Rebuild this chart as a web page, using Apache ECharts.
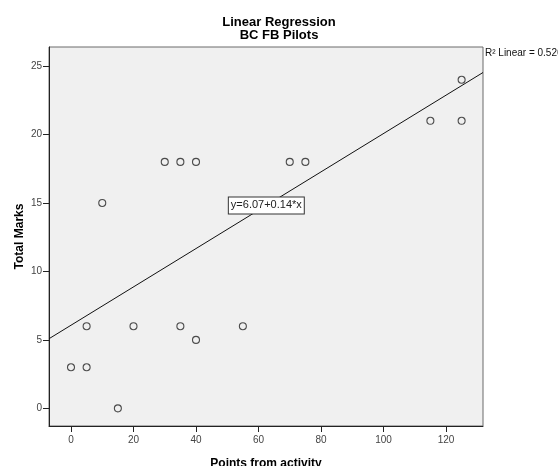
<!DOCTYPE html>
<html>
<head>
<meta charset="utf-8">
<script src="https://cdn.jsdelivr.net/npm/echarts@6/dist/echarts.min.js"></script>
<style>
html,body{margin:0;padding:0;background:#fff;}
#chart{width:558px;height:466px;}
</style>
</head>
<body>
<div id="chart"></div>
<script>
// Data
var pointsX = [0, 5, 5, 10, 15, 20, 30, 35, 40, 35, 40, 55, 70, 75, 115, 125, 125];
var pointsY = [3, 3, 6, 15, 0, 6, 18, 18, 18, 6, 5, 6, 18, 18, 21, 21, 24];
var xTicks = [0, 20, 40, 60, 80, 100, 120];
var yTicks = [0, 5, 10, 15, 20, 25];
var fitIntercept = 6.07;
var fitSlope = 0.14;
var fitLabel = 'y=6.07+0.14*x';
var r2Label = 'R\u00B2 Linear = 0.526';
var titleLines = ['Linear Regression', 'BC FB Pilots'];
var xName = 'Points from activity';
var yName = 'Total Marks';

var xMin = -7.04, xMax = 131.84;
var yMin = -1.29, yMax = 26.39;
var labelX = 62.5;

var scatterData = pointsX.map(function (x, i) { return [x, pointsY[i]]; });
var lineData = [[xMin, fitIntercept + fitSlope * xMin], [xMax, fitIntercept + fitSlope * xMax]];

var chart = echarts.init(document.getElementById('chart'), null, {renderer: 'canvas'});
var font = 'Liberation Sans, Arial, sans-serif';
chart.setOption({
  animation: false,
  backgroundColor: '#ffffff',
  title: {
    text: titleLines.join('\n'),
    left: 'center',
    top: 11,
    textStyle: {fontFamily: font, fontSize: 13, fontWeight: 'bold', color: '#000', lineHeight: 13}
  },
  grid: {left: 49, top: 47, width: 434, height: 379, containLabel: false, outerBoundsMode: 'none',
         show: true, backgroundColor: '#f0f0f0', borderColor: '#6a6a6a', borderWidth: 1},
  xAxis: {
    type: 'value', min: xMin, max: xMax,
    name: xName, nameLocation: 'middle', nameGap: 32, nameMoveOverlap: false,
    nameTextStyle: {fontFamily: font, fontSize: 12, fontWeight: 'bold', color: '#000'},
    axisLine: {show: true, onZero: false, lineStyle: {color: '#222', width: 1}},
    axisTick: {show: true, inside: false, length: 6, customValues: xTicks, lineStyle: {color: '#222'}},
    axisLabel: {customValues: xTicks, fontFamily: font, fontSize: 10, color: '#444', margin: 9},
    splitLine: {show: false}
  },
  yAxis: {
    type: 'value', min: yMin, max: yMax,
    name: yName, nameLocation: 'middle', nameGap: 23, nameRotate: 90, nameMoveOverlap: false,
    nameTextStyle: {fontFamily: font, fontSize: 12, fontWeight: 'bold', color: '#000'},
    axisLine: {show: true, onZero: false, lineStyle: {color: '#222', width: 1}},
    axisTick: {show: true, inside: false, length: 6, customValues: yTicks, lineStyle: {color: '#222'}},
    axisLabel: {customValues: yTicks, fontFamily: font, fontSize: 10, color: '#444', margin: 7},
    splitLine: {show: false}
  },
  series: [
    {
      type: 'line', data: lineData, symbol: 'none', silent: true,
      lineStyle: {color: '#111', width: 1}, clip: true,
      markPoint: {
        symbol: 'rect', symbolSize: 1,
        itemStyle: {color: 'rgba(0,0,0,0)'},
        data: [{coord: [labelX, fitIntercept + fitSlope * labelX]}],
        label: {
          show: true, position: 'inside', formatter: fitLabel,
          fontFamily: font, fontSize: 11, color: '#222',
          backgroundColor: '#fff', borderColor: '#333', borderWidth: 1,
          padding: [3, 2, 2, 2]
        }
      }
    },
    {
      type: 'scatter', data: scatterData, symbol: 'circle', symbolSize: 7,
      itemStyle: {color: 'rgba(0,0,0,0)', borderColor: '#222', borderWidth: 1.1}
    }
  ],
  graphic: [
    {type: 'text', left: 485, top: 48, style: {text: r2Label, font: '10px Liberation Sans, Arial, sans-serif', fill: '#111'}}
  ]
});
</script>
</body>
</html>
